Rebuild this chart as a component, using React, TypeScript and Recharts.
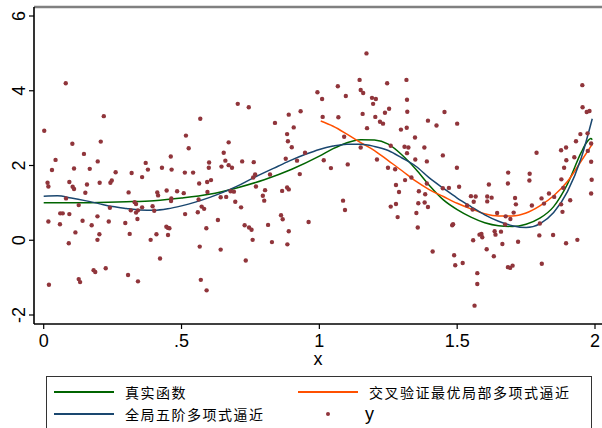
import React from 'react';
import { ComposedChart, Line, Scatter, XAxis, YAxis, ReferenceLine } from 'recharts';

// ---- axis ticks ----
const xTicks = [0, 0.5, 1, 1.5, 2];
const xTickLabels = ['0', '.5', '1', '1.5', '2'];
const yTicks = [-2, 0, 2, 4, 6];
const xDomain: [number, number] = [-0.0352, 2.0254];
const yDomain: [number, number] = [-2.241, 6.241];

// ---- series names ----
const seriesNames = ['真实函数', '交叉验证最优局部多项式逼近', '全局五阶多项式逼近', 'y'];
const seriesColors = ['#006400', '#ff5000', '#1a476f', '#90353b'];

// ---- true function (green) ----
const trueX = [0, 0.1, 0.2, 0.3, 0.4, 0.5, 0.6, 0.7, 0.8, 0.9, 1.0, 1.05, 1.1, 1.15, 1.2, 1.25, 1.3, 1.35, 1.4, 1.45, 1.5, 1.55, 1.6, 1.65, 1.7, 1.75, 1.8, 1.85, 1.9, 1.95, 1.97, 1.985, 1.99];
const trueY = [1.0, 1.0, 1.01, 1.03, 1.06, 1.13, 1.23, 1.4, 1.62, 1.9, 2.25, 2.45, 2.61, 2.69, 2.68, 2.57, 2.28, 1.9, 1.46, 1.08, 0.82, 0.62, 0.47, 0.39, 0.37, 0.43, 0.59, 0.9, 1.5, 2.35, 2.62, 2.72, 2.69];

// ---- cross-validated local polynomial (orange) ----
const localX = [1.005, 1.05, 1.1, 1.15, 1.2, 1.25, 1.3, 1.35, 1.4, 1.45, 1.5, 1.55, 1.6, 1.65, 1.7, 1.75, 1.8, 1.85, 1.9, 1.95, 1.99];
const localY = [3.19, 3.05, 2.84, 2.61, 2.4, 2.13, 1.86, 1.58, 1.35, 1.17, 0.99, 0.84, 0.71, 0.65, 0.65, 0.73, 0.92, 1.19, 1.57, 2.12, 2.57];

// ---- global 5th order polynomial (blue) ----
const globalX = [0, 0.05, 0.1, 0.15, 0.2, 0.25, 0.3, 0.35, 0.4, 0.45, 0.5, 0.55, 0.6, 0.65, 0.7, 0.75, 0.8, 0.85, 0.9, 0.95, 1.0, 1.05, 1.1, 1.15, 1.2, 1.25, 1.3, 1.35, 1.4, 1.45, 1.5, 1.55, 1.6, 1.65, 1.7, 1.75, 1.8, 1.85, 1.9, 1.95, 1.99];
const globalY = [1.18, 1.19, 1.13, 1.06, 0.98, 0.9, 0.85, 0.81, 0.8, 0.84, 0.92, 1.02, 1.14, 1.28, 1.44, 1.63, 1.81, 1.98, 2.15, 2.3, 2.43, 2.52, 2.57, 2.57, 2.51, 2.4, 2.2, 1.98, 1.66, 1.39, 1.13, 0.9, 0.68, 0.51, 0.39, 0.34, 0.44, 0.74, 1.3, 2.2, 3.25];

// ---- observations (x, y) ----
const observations: [number, number][] = [
  [0.080, 4.20], [0.218, 3.32], [0.002, 2.93], [0.104, 2.58], [0.207, 2.64], [0.146, 2.31], [0.043, 2.15], [0.196, 2.11],
  [0.030, 1.88], [0.110, 1.92], [0.167, 1.91], [0.261, 1.82], [0.319, 1.80], [0.370, 2.07], [0.378, 1.89], [0.357, 1.69],
  [0.014, 1.54], [0.017, 1.44], [0.093, 1.56], [0.105, 1.43], [0.110, 1.37], [0.157, 1.49], [0.203, 1.54], [0.242, 1.54],
  [0.247, 1.60], [0.151, 1.27], [0.308, 1.28], [0.081, 1.12], [0.127, 0.94], [0.330, 1.02], [0.335, 0.97], [0.240, 0.87],
  [0.316, 0.80], [0.335, 0.74], [0.342, 0.80], [0.357, 0.88], [0.060, 0.72], [0.069, 0.72], [0.093, 0.70], [0.195, 0.64],
  [0.017, 0.50], [0.059, 0.43], [0.141, 0.52], [0.174, 0.40], [0.236, 0.50], [0.296, 0.46], [0.340, 0.57], [0.115, 0.21],
  [0.202, 0.16], [0.195, 0.01], [0.312, 0.17], [0.091, -0.08], [0.181, -0.80], [0.187, -0.85], [0.225, -0.75], [0.127, -1.04],
  [0.132, -1.12], [0.306, -0.93], [0.342, -1.10], [0.019, -1.19],
  [0.704, 3.65], [0.744, 3.56], [0.568, 3.25], [0.516, 2.80], [0.526, 2.46], [0.671, 2.62], [0.653, 2.34], [0.461, 2.24],
  [0.659, 2.13], [0.600, 2.08], [0.599, 1.94], [0.645, 1.97], [0.671, 2.01], [0.683, 1.94], [0.720, 2.11], [0.762, 2.09],
  [0.429, 1.94], [0.464, 1.89], [0.512, 1.81], [0.542, 1.81], [0.767, 1.76], [0.760, 1.68], [0.564, 1.52], [0.593, 1.56],
  [0.607, 1.61], [0.770, 1.44], [0.412, 1.28], [0.415, 1.20], [0.446, 1.33], [0.484, 1.31], [0.508, 1.26], [0.594, 1.29],
  [0.678, 1.31], [0.690, 1.30], [0.662, 1.16], [0.642, 1.15], [0.795, 1.19], [0.463, 1.12], [0.462, 1.05], [0.562, 1.09],
  [0.695, 1.03], [0.395, 0.91], [0.401, 0.79], [0.573, 0.90], [0.582, 0.84], [0.716, 0.88], [0.559, 0.75], [0.513, 0.70],
  [0.632, 0.54], [0.445, 0.36], [0.451, 0.33], [0.456, 0.32], [0.590, 0.32], [0.729, 0.40], [0.745, 0.34], [0.754, 0.28],
  [0.409, 0.16], [0.451, 0.14], [0.388, 0.01], [0.758, 0.01], [0.566, -0.17], [0.642, -0.25], [0.422, -0.49], [0.733, -0.54],
  [0.570, -1.06], [0.591, -1.34],
  [1.171, 5.00], [1.146, 4.29], [1.150, 4.02], [1.159, 3.94], [1.067, 4.12], [1.096, 3.86], [0.993, 3.96], [1.010, 3.78],
  [1.191, 3.81], [1.205, 3.78], [1.195, 3.65], [0.889, 3.36], [0.932, 3.45], [0.839, 3.14], [0.907, 3.02], [0.883, 2.84],
  [0.886, 2.65], [0.900, 2.49], [1.012, 3.30], [1.069, 3.29], [1.157, 3.38], [1.203, 3.30], [1.173, 3.00], [1.090, 2.77],
  [1.150, 2.48], [0.948, 2.34], [0.878, 2.18], [0.919, 2.13], [1.016, 2.14], [1.103, 2.03], [1.042, 1.93], [1.209, 2.16],
  [0.821, 1.76], [0.929, 1.77], [0.803, 1.34], [0.800, 1.06], [0.865, 1.32], [0.883, 1.41], [0.889, 1.36], [1.086, 1.06],
  [1.093, 0.81], [0.861, 0.67], [0.867, 0.56], [0.961, 0.49], [0.814, 0.41], [0.889, 0.24], [0.828, -0.05], [0.884, -0.11],
  [1.246, 4.20], [1.316, 4.29], [1.318, 3.76], [1.238, 3.41], [1.253, 3.52], [1.319, 3.44], [1.454, 3.43], [1.220, 3.17],
  [1.231, 3.12], [1.394, 3.20], [1.425, 3.07], [1.500, 3.12], [1.296, 2.96], [1.317, 3.01], [1.347, 2.75], [1.259, 2.53],
  [1.309, 2.50], [1.323, 2.48], [1.318, 2.33], [1.381, 2.48], [1.448, 2.27], [1.348, 2.16], [1.390, 2.11], [1.249, 1.94],
  [1.275, 1.90], [1.334, 1.68], [1.499, 1.94], [1.311, 1.61], [1.390, 1.52], [1.615, 1.49], [1.278, 1.48], [1.289, 1.29],
  [1.361, 1.31], [1.384, 1.23], [1.448, 1.39], [1.470, 1.40], [1.507, 1.43], [1.259, 0.90], [1.278, 0.97], [1.359, 0.99],
  [1.382, 1.01], [1.394, 0.89], [1.550, 1.18], [1.567, 1.17], [1.536, 0.93], [1.560, 1.03], [1.556, 0.82], [1.609, 1.17],
  [1.625, 1.14], [1.609, 1.04], [1.284, 0.62], [1.352, 0.73], [1.357, 0.34], [1.482, 0.40], [1.485, 0.43], [1.558, 0.00],
  [1.581, 0.15], [1.588, 0.17], [1.591, 0.08], [1.607, -0.24], [1.411, -0.30], [1.489, -0.40], [1.493, -0.67], [1.520, -0.61],
  [1.573, -0.88], [1.573, -1.17], [1.563, -1.75],
  [1.954, 4.15], [1.955, 3.56], [1.970, 3.43], [1.980, 3.46], [1.947, 2.84], [1.973, 2.86], [1.931, 2.65], [1.986, 2.59],
  [1.788, 2.34], [1.877, 2.41], [1.895, 2.48], [1.974, 2.39], [1.925, 2.22], [1.896, 2.14], [1.986, 2.10], [1.888, 1.94],
  [1.685, 1.81], [1.763, 1.78], [1.684, 1.52], [1.762, 1.60], [1.878, 1.63], [1.988, 1.62], [1.885, 1.40], [1.986, 1.25],
  [1.710, 1.13], [1.713, 0.96], [1.806, 1.12], [1.833, 1.25], [1.852, 1.16], [1.815, 0.98], [1.910, 1.07], [1.771, 0.93],
  [1.877, 0.96], [1.882, 0.76], [1.645, 0.73], [1.705, 0.74], [1.676, 0.64], [1.693, 0.57], [1.674, 0.42], [1.800, 0.45],
  [1.636, 0.24], [1.639, 0.15], [1.659, 0.23], [1.798, 0.13], [1.848, 0.14], [1.664, -0.10], [1.721, -0.04], [1.895, -0.08],
  [1.936, 0.01], [1.633, -0.43], [1.684, -0.72], [1.692, -0.74], [1.701, -0.68], [1.807, -0.63],
];

const toRows = (xs: number[], ys: number[]) => xs.map((x, i) => ({ x, y: ys[i] }));
const trueData = toRows(trueX, trueY);
const localData = toRows(localX, localY);
const globalData = toRows(globalX, globalY);
const obsData = observations.map(([x, y]) => ({ x, y }));

const SANS = '"Liberation Sans", Arial, sans-serif';
const CJK = '"Noto Sans CJK SC", sans-serif';

const YTick = (props: any) => {
  const { x, y, payload } = props;
  const tx = x - 2;
  return (
    <text x={tx} y={y} transform={`rotate(-90 ${tx} ${y})`} textAnchor="middle" fontSize={18} fontFamily={SANS} fill="#000">
      {String(payload.value)}
    </text>
  );
};

const XTick = (props: any) => {
  const { x, y, payload } = props;
  const idx = xTicks.indexOf(payload.value);
  return (
    <text x={x} y={y} dy="0.71em" textAnchor="middle" fontSize={18} fontFamily={SANS} fill="#000">
      {idx >= 0 ? xTickLabels[idx] : String(payload.value)}
    </text>
  );
};

const Dot = (props: any) => {
  const { cx, cy } = props;
  if (cx == null || cy == null) return null;
  return <circle cx={cx} cy={cy} r={2.2} fill={seriesColors[3]} />;
};

const legendItems = [
  { name: seriesNames[0], color: seriesColors[0], kind: 'line', col: 0, row: 0 },
  { name: seriesNames[1], color: seriesColors[1], kind: 'line', col: 1, row: 0 },
  { name: seriesNames[2], color: seriesColors[2], kind: 'line', col: 0, row: 1 },
  { name: seriesNames[3], color: seriesColors[3], kind: 'dot', col: 1, row: 1 },
];

const Legend = () => (
  <div style={{ position: 'absolute', left: 46, top: 376, width: 546, height: 70, border: '1px solid #333', boxSizing: 'border-box', background: '#fff' }}>
    {legendItems.map((it, i) => {
      const left = it.col === 0 ? 7 : 251;
      const cy = it.row === 0 ? 15 : 37;
      return (
        <React.Fragment key={i}>
          {it.kind === 'line' ? (
            <div style={{ position: 'absolute', left, top: cy - 1, width: 60, height: 2, background: it.color }} />
          ) : (
            <div style={{ position: 'absolute', left: left + 28, top: cy - 2, width: 4, height: 4, borderRadius: 2, background: it.color }} />
          )}
          <div
            style={{
              position: 'absolute',
              left: left + (it.kind === 'dot' ? 67 : 71),
              top: cy - 11,
              height: 22,
              lineHeight: '22px',
              whiteSpace: 'nowrap',
              fontFamily: it.kind === 'dot' ? SANS : CJK,
              fontSize: it.kind === 'dot' ? 18 : 14,
              letterSpacing: it.kind === 'dot' ? 0 : 1.5,
              color: '#000',
            }}
          >
            {it.name}
          </div>
        </React.Fragment>
      );
    })}
  </div>
);

export default function App() {
  return (
    <div style={{ position: 'absolute', left: 0, top: 0, width: 602, height: 428, overflow: 'hidden', background: '#fff' }}>
      <ComposedChart width={602} height={428} margin={{ top: 7, right: 0, bottom: 0, left: 0 }}>
        <XAxis
          type="number"
          dataKey="x"
          domain={xDomain}
          allowDataOverflow
          ticks={xTicks}
          tick={<XTick />}
          tickSize={5}
          tickMargin={5}
          height={104}
          axisLine={{ stroke: '#000', strokeWidth: 1.6 }}
          tickLine={{ stroke: '#000', strokeWidth: 1.2 }}
          label={{ value: 'x', position: 'insideTop', offset: 28, fontSize: 18, fontFamily: SANS, fill: '#000' }}
        />
        <YAxis
          type="number"
          dataKey="y"
          domain={yDomain}
          allowDataOverflow
          ticks={yTicks}
          tick={<YTick />}
          tickSize={5}
          width={34}
          axisLine={{ stroke: '#000', strokeWidth: 1.6 }}
          tickLine={{ stroke: '#000', strokeWidth: 1.2 }}
        />
        <ReferenceLine y={yDomain[1]} stroke="#808080" strokeWidth={2.5} ifOverflow="visible" />
        <Line data={trueData} dataKey="y" type="monotone" stroke={seriesColors[0]} strokeWidth={1.5} dot={false} isAnimationActive={false} />
        <Line data={localData} dataKey="y" type="monotone" stroke={seriesColors[1]} strokeWidth={1.5} dot={false} isAnimationActive={false} />
        <Line data={globalData} dataKey="y" type="monotone" stroke={seriesColors[2]} strokeWidth={1.5} dot={false} isAnimationActive={false} />
        <Scatter data={obsData} dataKey="y" shape={<Dot />} isAnimationActive={false} />
      </ComposedChart>
      <Legend />
    </div>
  );
}
